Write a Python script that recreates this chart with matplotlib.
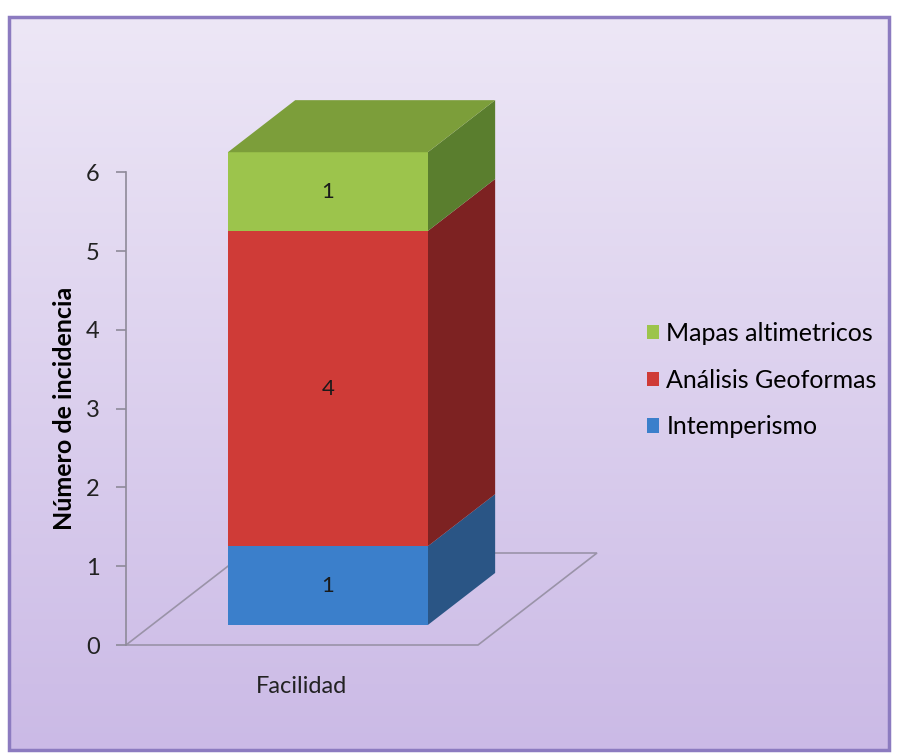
import numpy as np
import matplotlib.pyplot as plt
from matplotlib.patches import Polygon, Rectangle

# Daten
categoria = "Facilidad"
series = ["Intemperismo", "Análisis Geoformas", "Mapas altimetricos"]
valores = [1, 4, 1]
yticks = [0, 1, 2, 3, 4, 5, 6]

# Farben: Vorderseite, Seite, Oberseite
front_cols = ["#3B7FCB", "#CF3B37", "#9CC44C"]
side_cols = ["#2A5585", "#7D2222", "#5A7E2E"]
top_cols = ["#4A86C8", "#B23330", "#7C9E3A"]

W, H = 899, 755
fig = plt.figure(figsize=(W / 100, H / 100), dpi=100)

# Hintergrund mit Verlauf
bg = fig.add_axes([0, 0, 1, 1])
bg.set_xlim(0, W)
bg.set_ylim(H, 0)
bg.axis("off")
grad = np.linspace(0, 1, 256).reshape(-1, 1)
cmap = plt.matplotlib.colors.LinearSegmentedColormap.from_list("bg", ["#EDE7F6", "#CBBAE6"])
bg.imshow(grad, cmap=cmap, extent=[9, 889, 750, 17], aspect="auto", zorder=0)
bg.add_patch(Rectangle((9, 17), 880, 733, fill=False, ec="#8C7BC0", lw=2.5, zorder=1))

# Diagrammachse: y in Werten, x in Kategorie-Einheiten
px_per_val = 78.8
px_per_x = 352.0
y0_px = 645.0
x0_px = 302.0
ylim = (-0.15, 7.0)
xlim = (-0.75, 0.95)
ax_h = (ylim[1] - ylim[0]) * px_per_val
ax_w = (xlim[1] - xlim[0]) * px_per_x
ax_bottom = H - (y0_px - ylim[0] * px_per_val)
ax_left = x0_px + xlim[0] * px_per_x
ax = fig.add_axes([ax_left / W, ax_bottom / H, ax_w / W, ax_h / H])
ax.set_xlim(*xlim)
ax.set_ylim(*ylim)
ax.patch.set_alpha(0)

# Tiefenvektor (ganze Bodentiefe) in Dateneinheiten
dvx = 119 / px_per_x
dvy = 92 / px_per_val
d_front, d_back = 0.217, 0.783
bar_w = 0.568


def proj(x, y, d):
    return (x + d * dvx, y + d * dvy)


# Boden
floor = [proj(-0.5, 0, 0), proj(0.5, 0, 0), proj(0.5, 0, 1), proj(-0.5, 0, 1)]
ax.add_patch(Polygon(floor, closed=True, fill=False, ec="#9A93A8", lw=1.2,
                     zorder=1, clip_on=False))

# Gestapelte 3D-Säule
bottom = 0
xl, xr = -bar_w / 2, bar_w / 2
for i, v in enumerate(valores):
    top = bottom + v
    front = [proj(xl, bottom, d_front), proj(xr, bottom, d_front),
             proj(xr, top, d_front), proj(xl, top, d_front)]
    side = [proj(xr, bottom, d_front), proj(xr, bottom, d_back),
            proj(xr, top, d_back), proj(xr, top, d_front)]
    ax.add_patch(Polygon(side, closed=True, fc=side_cols[i], ec="none", zorder=3))
    ax.add_patch(Polygon(front, closed=True, fc=front_cols[i], ec="none", zorder=3))
    if i == len(valores) - 1:
        topf = [proj(xl, top, d_front), proj(xr, top, d_front),
                proj(xr, top, d_back), proj(xl, top, d_back)]
        ax.add_patch(Polygon(topf, closed=True, fc=top_cols[i], ec="none", zorder=3))
    cx, cy = proj(0, bottom + v / 2, d_front)
    ax.text(cx, cy, str(v), ha="center", va="center", fontsize=16,
            family="Lato", color="#1a1a1a", zorder=4)
    bottom = top

# Achsen
for s in ["top", "right", "bottom"]:
    ax.spines[s].set_visible(False)
ax.spines["left"].set_position(("data", -0.5))
ax.spines["left"].set_bounds(0, 6)
ax.spines["left"].set_color("#8E8A99")
ax.spines["left"].set_linewidth(1.2)
ax.set_yticks(yticks)
ax.set_yticklabels([str(t) for t in yticks], fontsize=17, family="Lato", color="#222222")
ax.tick_params(axis="y", length=7, width=1.2, color="#8E8A99", pad=12)
ax.set_xticks([0])
ax.set_xticklabels([categoria], fontsize=17, family="Lato", color="#222222")
ax.tick_params(axis="x", length=0, pad=14)
ax.set_ylabel("Número de incidencia", fontsize=18, family="Lato", fontweight="bold")
ax.yaxis.set_label_coords((76 - ax_left) / ax_w, (3.0 - ylim[0]) / (ylim[1] - ylim[0]))

# Legende (umgekehrte Reihenfolge wie bei Excel)
handles = [Rectangle((0, 0), 1, 1, fc=front_cols[i], ec="none") for i in range(3)][::-1]
leg = fig.legend(handles, series[::-1], loc="center left",
                 bbox_to_anchor=(624 / W, 1 - 380 / H), frameon=False,
                 prop={"family": "Lato", "size": 18}, handlelength=0.5,
                 handleheight=0.5, handletextpad=0.3, labelspacing=0.95)

fig.savefig("out.png", dpi=100)
